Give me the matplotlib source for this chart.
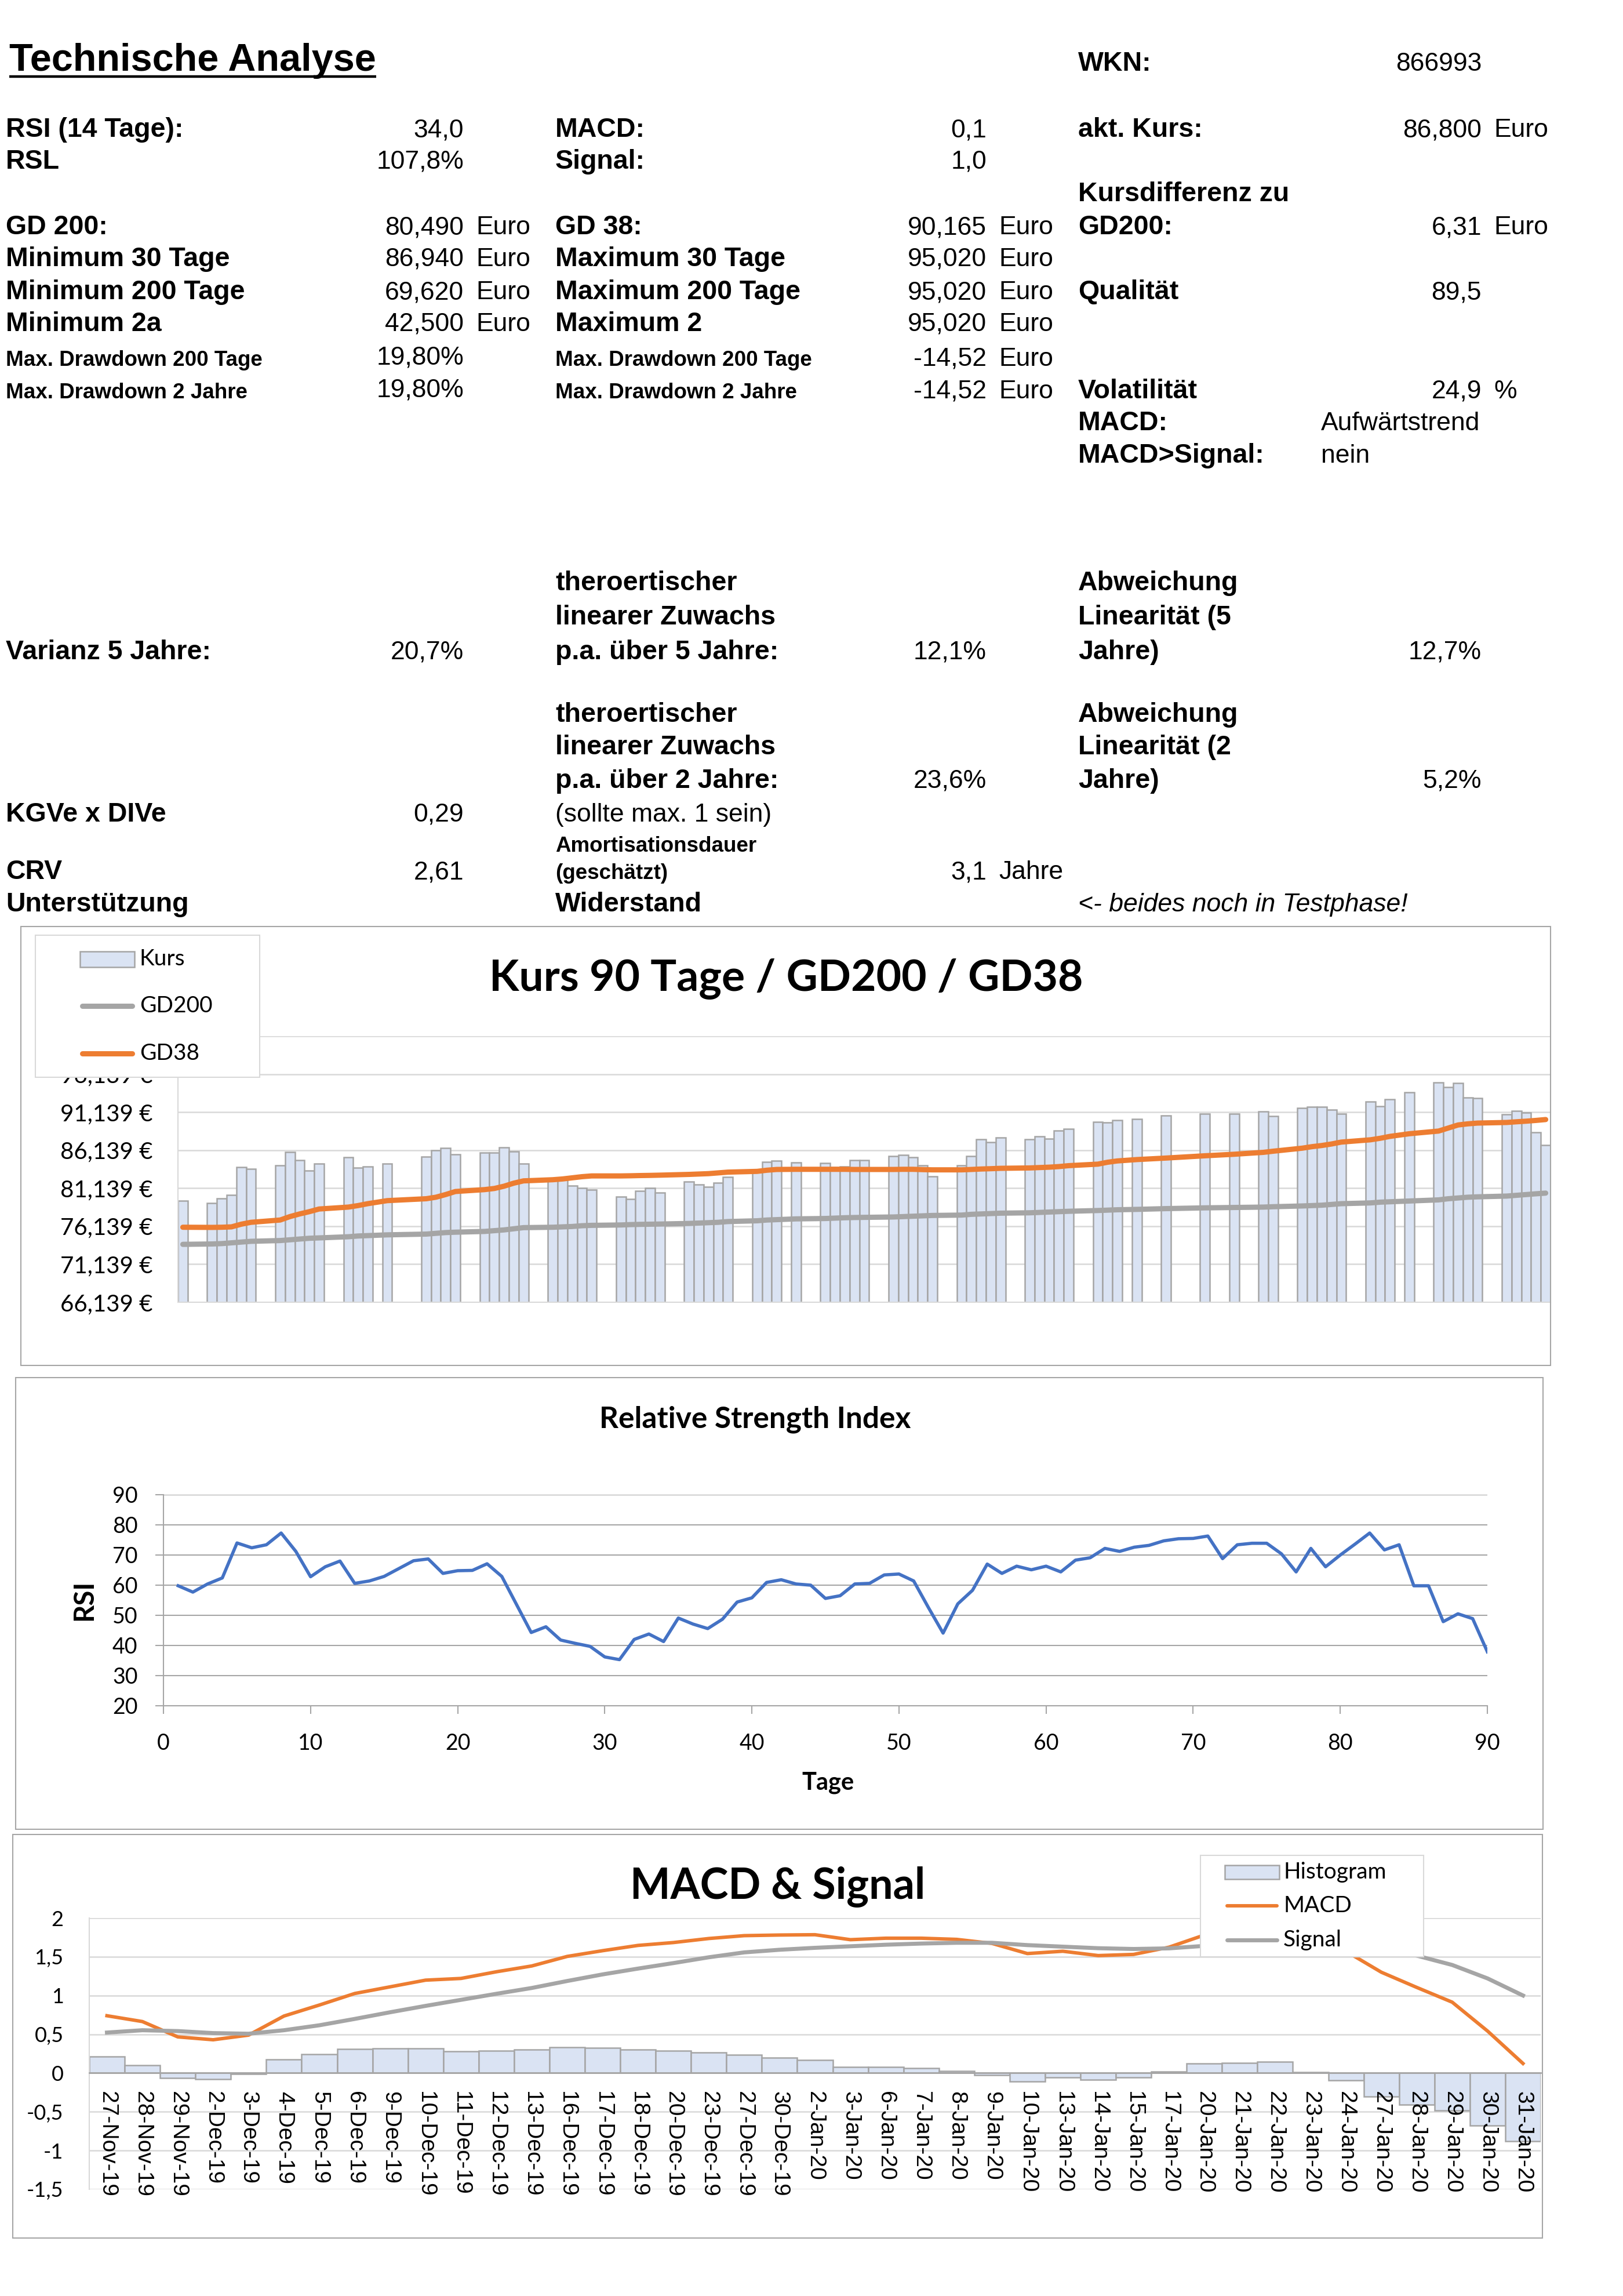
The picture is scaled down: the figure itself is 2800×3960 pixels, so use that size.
import numpy as np
import matplotlib
matplotlib.use("Agg")
import matplotlib.pyplot as plt
import matplotlib.dates as mdates
from matplotlib.patches import Rectangle

W, H = 2800, 3960
DPI = 100

# ---------------- Kurs 90 Tage / GD200 / GD38 ----------------
kurs_dates = [
    "2019-09-13",
    "2019-09-16", "2019-09-17", "2019-09-18", "2019-09-19", "2019-09-20",
    "2019-09-23", "2019-09-24", "2019-09-25", "2019-09-26", "2019-09-27",
    "2019-09-30", "2019-10-01", "2019-10-02", "2019-10-04",
    "2019-10-08", "2019-10-09", "2019-10-10", "2019-10-11",
    "2019-10-14", "2019-10-15", "2019-10-16", "2019-10-17", "2019-10-18",
    "2019-10-21", "2019-10-22", "2019-10-23", "2019-10-24", "2019-10-25",
    "2019-10-28", "2019-10-29", "2019-10-30", "2019-10-31", "2019-11-01",
    "2019-11-04", "2019-11-05", "2019-11-06", "2019-11-07", "2019-11-08",
    "2019-11-11", "2019-11-12", "2019-11-13", "2019-11-15",
    "2019-11-18", "2019-11-19", "2019-11-20", "2019-11-21", "2019-11-22",
    "2019-11-25", "2019-11-26", "2019-11-27", "2019-11-28", "2019-11-29",
    "2019-12-02", "2019-12-03", "2019-12-04", "2019-12-05", "2019-12-06",
    "2019-12-09", "2019-12-10", "2019-12-11", "2019-12-12", "2019-12-13",
    "2019-12-16", "2019-12-17", "2019-12-18", "2019-12-20",
    "2019-12-23", "2019-12-27", "2019-12-30", "2020-01-02", "2020-01-03",
    "2020-01-06", "2020-01-07", "2020-01-08", "2020-01-09", "2020-01-10",
    "2020-01-13", "2020-01-14", "2020-01-15", "2020-01-17",
    "2020-01-20", "2020-01-21", "2020-01-22", "2020-01-23", "2020-01-24",
    "2020-01-27", "2020-01-28", "2020-01-29", "2020-01-30", "2020-01-31",
]
kurs = [
    79.47,
    79.15, 79.78, 80.21, 83.93, 83.71,
    84.10, 85.90, 84.85, 83.43, 84.40,
    85.17, 83.86, 84.02, 84.40,
    85.30, 86.14, 86.40, 85.62,
    85.82, 85.82, 86.50, 85.94, 84.40,
    82.30, 82.55, 81.47, 81.14, 80.91,
    80.02, 79.70, 80.77, 81.14, 80.56,
    82.01, 81.62, 81.30, 81.82, 82.60,
    83.20, 84.60, 84.73, 84.52,
    84.47, 83.90, 84.00, 84.81, 84.81,
    85.36, 85.49, 85.20, 84.17, 82.70,
    84.15, 85.33, 87.60, 87.15, 87.77,
    87.60, 87.95, 87.66, 88.71, 88.97,
    89.89, 89.75, 90.11, 90.25,
    90.73, 90.93, 90.93, 91.20, 90.58,
    91.70, 91.80, 91.80, 91.49, 90.95,
    92.55, 91.93, 92.82, 93.75,
    95.02, 94.40, 94.93, 93.06, 93.00,
    90.87, 91.32, 91.07, 88.45, 86.80,
]
gd200 = [
    73.75,
    73.80, 73.85, 73.95, 74.05, 74.15,
    74.25, 74.35, 74.45, 74.55, 74.60,
    74.75, 74.85, 74.90, 75.00,
    75.10, 75.20, 75.30, 75.35,
    75.45, 75.55, 75.65, 75.80, 75.95,
    76.00, 76.05, 76.10, 76.20, 76.25,
    76.30, 76.35, 76.38, 76.40, 76.42,
    76.50, 76.55, 76.60, 76.65, 76.75,
    76.85, 76.95, 77.00, 77.10,
    77.15, 77.20, 77.25, 77.28, 77.30,
    77.35, 77.40, 77.45, 77.50, 77.55,
    77.60, 77.70, 77.75, 77.80, 77.85,
    77.90, 77.95, 78.00, 78.05, 78.10,
    78.20, 78.25, 78.30, 78.35,
    78.45, 78.55, 78.60, 78.65, 78.70,
    78.80, 78.85, 78.90, 79.00, 79.10,
    79.20, 79.30, 79.35, 79.45,
    79.60, 79.75, 79.85, 79.95, 80.00,
    80.10, 80.20, 80.30, 80.40, 80.49,
]
gd38 = [
    76.00,
    75.98, 76.00, 76.05, 76.40, 76.65,
    76.95, 77.40, 77.75, 78.05, 78.40,
    78.65, 78.85, 79.10, 79.50,
    79.75, 79.95, 80.30, 80.70,
    80.95, 81.10, 81.40, 81.80, 82.10,
    82.25, 82.35, 82.50, 82.65, 82.75,
    82.75, 82.77, 82.80, 82.82, 82.85,
    82.95, 83.00, 83.05, 83.15, 83.25,
    83.35, 83.50, 83.60, 83.62,
    83.62, 83.62, 83.62, 83.60, 83.60,
    83.60, 83.62, 83.62, 83.58, 83.55,
    83.55, 83.60, 83.66, 83.70, 83.75,
    83.80, 83.85, 83.90, 83.98, 84.10,
    84.30, 84.55, 84.72, 84.90,
    85.10, 85.40, 85.60, 85.85, 86.00,
    86.40, 86.60, 86.75, 86.95, 87.20,
    87.50, 87.70, 87.95, 88.30,
    88.65, 89.05, 89.45, 89.60, 89.70,
    89.78, 89.87, 89.95, 90.05, 90.165,
]
kurs_ticks = [66.139 + 5 * k for k in range(8)]

# ---------------- RSI ----------------
rsi = [
    59.8, 57.7, 60.4, 62.4, 74.0, 72.4, 73.4, 77.3, 71.2, 62.8,
    66.1, 68.0, 60.6, 61.4, 62.9, 65.5, 68.1, 68.7, 63.9, 64.8,
    64.9, 67.1, 62.9, 53.6, 44.3, 46.2, 41.8, 40.7, 39.7, 36.2,
    35.3, 42.0, 43.8, 41.3, 49.1, 47.1, 45.6, 48.7, 54.4, 55.8,
    60.9, 61.8, 60.4, 60.0, 55.6, 56.5, 60.4, 60.6, 63.4, 63.7,
    61.4, 52.6, 44.1, 53.8, 58.3, 67.0, 63.9, 66.3, 65.1, 66.3,
    64.4, 68.3, 69.1, 72.2, 71.2, 72.6, 73.2, 74.7, 75.4, 75.5,
    76.3, 68.8, 73.4, 73.9, 73.9, 70.4, 64.4, 72.2, 66.1, 70.0,
    73.6, 77.3, 71.7, 73.4, 59.8, 59.8, 47.9, 50.5, 48.9, 37.9,
]

# ---------------- MACD & Signal ----------------
macd_dates = [
    "27-Nov-19", "28-Nov-19", "29-Nov-19", "2-Dec-19", "3-Dec-19", "4-Dec-19",
    "5-Dec-19", "6-Dec-19", "9-Dec-19", "10-Dec-19", "11-Dec-19", "12-Dec-19",
    "13-Dec-19", "16-Dec-19", "17-Dec-19", "18-Dec-19", "20-Dec-19", "23-Dec-19",
    "27-Dec-19", "30-Dec-19", "2-Jan-20", "3-Jan-20", "6-Jan-20", "7-Jan-20",
    "8-Jan-20", "9-Jan-20", "10-Jan-20", "13-Jan-20", "14-Jan-20", "15-Jan-20",
    "17-Jan-20", "20-Jan-20", "21-Jan-20", "22-Jan-20", "23-Jan-20", "24-Jan-20",
    "27-Jan-20", "28-Jan-20", "29-Jan-20", "30-Jan-20", "31-Jan-20",
]
macd = [
    0.739, 0.664, 0.466, 0.429, 0.489, 0.735, 0.877, 1.026, 1.112, 1.198,
    1.220, 1.306, 1.381, 1.504, 1.578, 1.646, 1.683, 1.735, 1.772, 1.780,
    1.784, 1.720, 1.739, 1.739, 1.724, 1.672, 1.541, 1.571, 1.515, 1.530,
    1.623, 1.780, 1.800, 1.830, 1.700, 1.570, 1.300, 1.104, 0.914, 0.541,
    0.123,
]
signal = [
    0.522, 0.552, 0.541, 0.515, 0.507, 0.552, 0.616, 0.698, 0.784, 0.866,
    0.944, 1.022, 1.097, 1.187, 1.272, 1.347, 1.418, 1.493, 1.556, 1.590,
    1.615, 1.635, 1.655, 1.670, 1.680, 1.680, 1.650, 1.630, 1.610, 1.600,
    1.608, 1.640, 1.665, 1.685, 1.690, 1.665, 1.606, 1.514, 1.394, 1.220,
    1.000,
]
histogram = [
    0.216, 0.104, -0.063, -0.082, -0.015, 0.175, 0.243, 0.310, 0.317, 0.317,
    0.280, 0.290, 0.300, 0.336, 0.325, 0.306, 0.284, 0.265, 0.235, 0.198,
    0.168, 0.078, 0.075, 0.060, 0.026, -0.026, -0.108, -0.056, -0.090, -0.056,
    0.015, 0.123, 0.130, 0.149, 0.011, -0.093, -0.306, -0.410, -0.480, -0.680,
    -0.877,
]
macd_ticks = [-1.5, -1, -0.5, 0, 0.5, 1, 1.5, 2]

# ---------------- Kennzahlen-Tabelle ----------------
A, B_R, B_U, C, D_R, D_U, E, F_R, F_U, F_L = 10, 800, 821, 958, 1702, 1723, 1860, 2556, 2577, 2279

sheet_rows = [
    (E, 122, "WKN:", "label"), (F_R, 122, "866993", "value"),
    (A, 236, "RSI (14 Tage):", "label"), (B_R, 236, "34,0", "value"),
    (C, 236, "MACD:", "label"), (D_R, 236, "0,1", "value"),
    (E, 236, "akt. Kurs:", "label"), (F_R, 236, "86,800", "value"), (F_U, 236, "Euro", "plain"),
    (A, 291, "RSL", "label"), (B_R, 291, "107,8%", "value"),
    (C, 291, "Signal:", "label"), (D_R, 291, "1,0", "value"),
    (E, 347, "Kursdifferenz zu", "label"),
    (A, 404, "GD 200:", "label"), (B_R, 404, "80,490", "value"), (B_U, 404, "Euro", "plain"),
    (C, 404, "GD 38:", "label"), (D_R, 404, "90,165", "value"), (D_U, 404, "Euro", "plain"),
    (E, 404, "GD200:", "label"), (F_R, 404, "6,31", "value"), (F_U, 404, "Euro", "plain"),
    (A, 459, "Minimum 30 Tage", "label"), (B_R, 459, "86,940", "value"), (B_U, 459, "Euro", "plain"),
    (C, 459, "Maximum 30 Tage", "label"), (D_R, 459, "95,020", "value"), (D_U, 459, "Euro", "plain"),
    (A, 516, "Minimum 200 Tage", "label"), (B_R, 516, "69,620", "value"), (B_U, 516, "Euro", "plain"),
    (C, 516, "Maximum 200 Tage", "label"), (D_R, 516, "95,020", "value"), (D_U, 516, "Euro", "plain"),
    (E, 516, "Qualität", "label"), (F_R, 516, "89,5", "value"),
    (A, 571, "Minimum 2a", "label"), (B_R, 571, "42,500", "value"), (B_U, 571, "Euro", "plain"),
    (C, 571, "Maximum 2", "label"), (D_R, 571, "95,020", "value"), (D_U, 571, "Euro", "plain"),
    (A, 631, "Max. Drawdown 200 Tage", "small"), (B_R, 629, "19,80%", "value"),
    (C, 631, "Max. Drawdown 200 Tage", "small"), (D_R, 631, "-14,52", "value"), (D_U, 631, "Euro", "plain"),
    (A, 687, "Max. Drawdown 2 Jahre", "small"), (B_R, 685, "19,80%", "value"),
    (C, 687, "Max. Drawdown 2 Jahre", "small"), (D_R, 687, "-14,52", "value"), (D_U, 687, "Euro", "plain"),
    (E, 687, "Volatilität", "label"), (F_R, 687, "24,9", "value"), (F_U, 687, "%", "plain"),
    (E, 742, "MACD:", "label"), (F_L, 742, "Aufwärtstrend", "plain"),
    (E, 798, "MACD>Signal:", "label"), (F_L, 798, "nein", "plain"),
    (C, 1018, "theroertischer", "label"), (E, 1018, "Abweichung", "label"),
    (C, 1077, "linearer Zuwachs", "label"), (E, 1077, "Linearität (5", "label"),
    (A, 1137, "Varianz 5 Jahre:", "label"), (B_R, 1137, "20,7%", "value"),
    (C, 1137, "p.a. über 5 Jahre:", "label"), (D_R, 1137, "12,1%", "value"),
    (E, 1137, "Jahre)", "label"), (F_R, 1137, "12,7%", "value"),
    (C, 1245, "theroertischer", "label"), (E, 1245, "Abweichung", "label"),
    (C, 1301, "linearer Zuwachs", "label"), (E, 1301, "Linearität (2", "label"),
    (C, 1359, "p.a. über 2 Jahre:", "label"), (D_R, 1359, "23,6%", "value"),
    (E, 1359, "Jahre)", "label"), (F_R, 1359, "5,2%", "value"),
    (A, 1417, "KGVe x DIVe", "label"), (B_R, 1417, "0,29", "value"),
    (C, 1417, "(sollte max. 1 sein)", "plain"),
    (C, 1469, "Amortisationsdauer", "small"),
    (A, 1516, "CRV", "label"), (B_R, 1516, "2,61", "value"),
    (C, 1516, "(geschätzt)", "small"), (D_R, 1516, "3,1", "value"), (D_U, 1516, "Jahre", "plain"),
    (A, 1572, "Unterstützung", "label"), (C, 1572, "Widerstand", "label"),
    (E, 1572, "<- beides noch in Testphase!", "italic"),
]

STYLES = {
    "label": dict(fontsize=33.5, fontweight="bold", ha="left"),
    "small": dict(fontsize=26.5, fontweight="bold", ha="left"),
    "value": dict(fontsize=32, ha="right"),
    "plain": dict(fontsize=32, ha="left"),
    "italic": dict(fontsize=32, ha="left", style="italic"),
}

SHEET_FONT = "Liberation Sans"
CHART_FONT = "Lato"
BAR_FACE = "#dae3f3"
BAR_EDGE = "#a5a5a5"
ORANGE = "#ed7d31"
GREY = "#a5a5a5"
BLUE = "#4472c4"
GRID = "#d9d9d9"
BOX = "#a6a6a6"


def fig_rect(x0, y0, x1, y1):
    return [x0 / W, 1 - y1 / H, (x1 - x0) / W, (y1 - y0) / H]


def comma(v, dec):
    return f"{v:.{dec}f}".replace(".", ",")


fig = plt.figure(figsize=(W / DPI, H / DPI), dpi=DPI)
fig.patch.set_facecolor("white")

# overlay in pixel coordinates, drawn on top of the charts
page = fig.add_axes([0, 0, 1, 1], zorder=10)
page.set_xlim(0, W)
page.set_ylim(H, 0)
page.axis("off")

# ---- sheet text ----
title = page.text(16, 122, "Technische Analyse", fontsize=48, fontweight="bold",
                  family=SHEET_FONT, ha="left", va="baseline")
for x, y, s, kind in sheet_rows:
    page.text(x, y, s, family=SHEET_FONT, va="baseline", **STYLES[kind])

fig.canvas.draw()
bb = title.get_window_extent()
page.plot([bb.x0, bb.x1], [132, 132], color="black", lw=3.2, solid_capstyle="butt")

# ---- chart boxes ----
for x0, y0, x1, y1 in [(36, 1598, 2675, 2355), (27, 2376, 2662, 3155), (22, 3164, 2661, 3860)]:
    page.add_patch(Rectangle((x0, y0), x1 - x0, y1 - y0, fill=False, ec=BOX, lw=1.5))

# ================= Chart 1: Kurs =================
ax1 = fig.add_axes(fig_rect(307, 1787, 2675, 2246))
xd = mdates.datestr2num(kurs_dates)
ax1.bar(xd, kurs, width=1.0, color=BAR_FACE, edgecolor=BAR_EDGE, linewidth=1.8, zorder=2)
ax1.plot(xd, gd200, color=GREY, lw=6.5, solid_capstyle="round", zorder=3)
ax1.plot(xd, gd38, color=ORANGE, lw=6.5, solid_capstyle="round", zorder=4)
ax1.set_xlim(xd[0] - 0.5, xd[-1] + 0.5)
ax1.set_ylim(kurs_ticks[0], kurs_ticks[-1])
ax1.set_xticks([])
ax1.set_yticks(kurs_ticks)
ax1.set_yticklabels([comma(v, 3) + " €" for v in kurs_ticks], family=CHART_FONT, fontsize=29)
ax1.tick_params(axis="y", length=0, pad=31)
ax1.yaxis.grid(True, color=GRID, lw=1.8)
ax1.set_axisbelow(True)
for side in ["top", "right"]:
    ax1.spines[side].set_visible(False)
for side in ["left", "bottom"]:
    ax1.spines[side].set_color(GRID)
    ax1.spines[side].set_linewidth(1.5)
ax1.patch.set_alpha(0)

page.text(1356, 1709, "Kurs 90 Tage / GD200 / GD38", family=CHART_FONT, fontweight="bold",
          fontsize=54, ha="center", va="baseline")

# legend chart 1
page.add_patch(Rectangle((61, 1613), 387, 245, fc="white", ec=GRID, lw=1.5))
page.add_patch(Rectangle((138, 1641), 94, 27, fc=BAR_FACE, ec=BAR_EDGE, lw=1.8))
page.plot([142, 228], [1735, 1735], color=GREY, lw=6.5, solid_capstyle="round")
page.plot([142, 228], [1817, 1817], color=ORANGE, lw=6.5, solid_capstyle="round")
for y, s in [(1654, "Kurs"), (1735, "GD200"), (1817, "GD38")]:
    page.text(241, y, s, family=CHART_FONT, fontsize=28, ha="left", va="center")

# ================= Chart 2: RSI =================
ax2 = fig.add_axes(fig_rect(282, 2578, 2566, 2942))
ax2.plot(np.arange(1, len(rsi) + 1), rsi, color=BLUE, lw=4.0, zorder=3)
ax2.set_xlim(0, 90)
ax2.set_ylim(20, 90)
ax2.set_xticks(range(0, 91, 10))
ax2.set_yticks(range(20, 91, 10))
ax2.tick_params(direction="out", length=10, width=1.5, color=BOX, labelsize=27,
                labelfontfamily=CHART_FONT)
ax2.tick_params(axis="y", pad=22)
ax2.tick_params(axis="x", pad=24)
ax2.yaxis.grid(True, color=BOX, lw=1.5)
ax2.set_axisbelow(True)
for side in ["top", "right"]:
    ax2.spines[side].set_visible(False)
for side in ["left", "bottom"]:
    ax2.spines[side].set_color(BOX)
    ax2.spines[side].set_linewidth(1.5)
ax2.patch.set_alpha(0)

page.text(1303, 2462, "Relative Strength Index", family=CHART_FONT, fontweight="bold",
          fontsize=37, ha="center", va="baseline")
page.text(1428, 3087, "Tage", family=CHART_FONT, fontweight="bold", fontsize=30,
          ha="center", va="baseline")
page.text(145, 2760, "RSI", family=CHART_FONT, fontweight="bold", fontsize=34,
          rotation=90, ha="center", va="center")

# ================= Chart 3: MACD =================
ax3 = fig.add_axes(fig_rect(154, 3308, 2658, 3776))
# axis line through zero, labels hang below it
ax3.spines["bottom"].set_position(("data", 0))
idx = np.arange(len(macd_dates))
ax3.bar(idx, histogram, width=1.0, color=BAR_FACE, edgecolor=BAR_EDGE, linewidth=1.8, zorder=2)
ax3.plot(idx, macd, color=ORANGE, lw=4.3, zorder=3)
ax3.plot(idx, signal, color=GREY, lw=5.0, zorder=4)
ax3.set_xlim(-0.5, len(idx) - 0.5)
ax3.set_ylim(-1.5, 2)
ax3.set_yticks(macd_ticks)
ax3.set_yticklabels([f"{v:g}".replace(".", ",") for v in macd_ticks])
ax3.set_xticks(idx)
ax3.set_xticklabels(macd_dates)
ax3.tick_params(axis="y", length=0, pad=32, labelsize=26, labelfontfamily=CHART_FONT)
ax3.tick_params(axis="x", length=0, pad=23, labelsize=28, labelrotation=-90,
                labelfontfamily=SHEET_FONT)
ax3.yaxis.grid(True, color=GRID, lw=1.8)
ax3.set_axisbelow(True)
ax3.xaxis.set_zorder(5)
ax3.spines["bottom"].set_color(BOX)
ax3.spines["bottom"].set_linewidth(2)
ax3.spines["left"].set_color(GRID)
ax3.spines["left"].set_linewidth(1.5)
for side in ["top", "right"]:
    ax3.spines[side].set_visible(False)
ax3.patch.set_alpha(0)

page.text(1342, 3275, "MACD & Signal", family=CHART_FONT, fontweight="bold", fontsize=53,
          ha="center", va="baseline")

# legend chart 3
page.add_patch(Rectangle((2071, 3200), 385, 175, fc="white", ec=GRID, lw=1.5))
page.add_patch(Rectangle((2113, 3217), 94, 24, fc=BAR_FACE, ec=BAR_EDGE, lw=1.8))
page.plot([2117, 2203], [3287, 3287], color=ORANGE, lw=4.3, solid_capstyle="round")
page.plot([2117, 2203], [3346, 3346], color=GREY, lw=5.0, solid_capstyle="round")
for y, s in [(3229, "Histogram"), (3287, "MACD"), (3346, "Signal")]:
    page.text(2214, y, s, family=CHART_FONT, fontsize=28, ha="left", va="center")

fig.savefig("out.png", dpi=DPI)
